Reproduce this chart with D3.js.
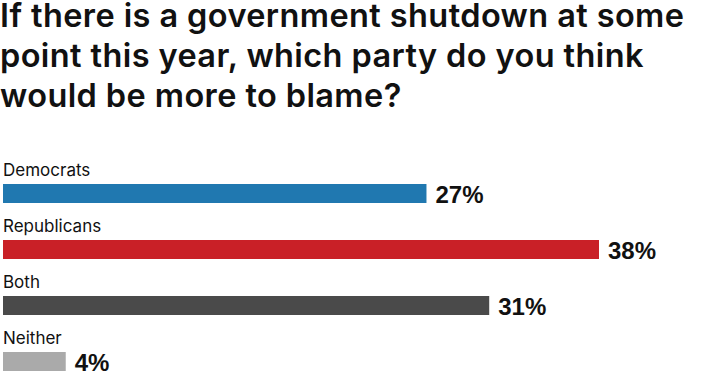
<!DOCTYPE html>
<html>
<head>
<meta charset="utf-8">
<script src="https://cdn.jsdelivr.net/npm/d3@7"></script>
<style>
  body { margin: 0; background: #fff; }
</style>
</head>
<body>
<div id="chart"></div>
<script>
const titleLines = [
    "If there is a government shutdown at some",
    "point this year, which party do you think",
    "would be more to blame?"
]
const parties = ["Democrats", "Republicans", "Both", "Neither"]
const shares = [27, 38, 31, 4]
const barColors = ["#2078b0", "#c92027", "#4a4a4a", "#aaaaaa"]

const width = 718, height = 377
const margin = { top: 156, left: 3 }

const svg = d3.select("#chart")
    .append("svg")
    .attr("width", width)
    .attr("height", height)

svg.append("g")
    .selectAll("text")
    .data(titleLines)
    .enter()
    .append("text")
    .attr("x", 0)
    .attr("y", (d, i) => 27 + i * 40)
    .attr("font-family", "Inter, 'Noto Sans', sans-serif")
    .attr("font-size", "32.5px")
    .attr("letter-spacing", "0.4px")
    .attr("font-weight", 600)
    .attr("fill", "#111")
    .text(d => d)

// ~15.67px per percentage point
const x = d3.scaleLinear()
    .domain([0, 38])
    .range([0, 596])

const y = d3.scaleBand()
    .domain(parties)
    .range([margin.top, margin.top + 4 * 56])

const rows = svg.append("g")
    .selectAll("g")
    .data(parties)
    .enter()
    .append("g")
    .attr("transform", d => `translate(${margin.left},${y(d)})`)

rows.append("text")
    .attr("x", 0)
    .attr("y", 20)
    .attr("font-family", "Inter, 'Noto Sans', sans-serif")
    .attr("font-size", "17px")
    .attr("fill", "#111")
    .text(d => d)

rows.append("rect")
    .attr("x", 0)
    .attr("y", 28)
    .attr("height", 19)
    .attr("width", (d, i) => x(shares[i]))
    .attr("fill", (d, i) => barColors[i])

rows.append("text")
    .attr("x", (d, i) => x(shares[i]) + 9)
    .attr("y", 47)
    .attr("font-family", "'Liberation Sans', Arial, sans-serif")
    .attr("font-size", "24px")
    .attr("font-weight", "bold")
    .attr("fill", "#111")
    .text((d, i) => shares[i] + "%")
</script>
</body>
</html>
